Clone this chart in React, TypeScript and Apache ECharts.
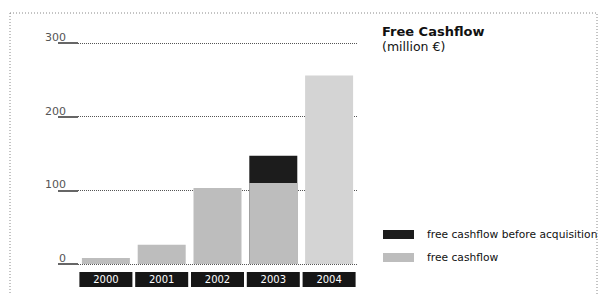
import React, { useEffect, useRef } from "react";
import * as echarts from "echarts";

const years = ["2000", "2001", "2002", "2003", "2004"];
const freeCashflow = [8, 26, 103, 110, 256];
const beforeAcquisition = [null, null, null, 147, null];
const yTicks = { min: 0, max: 300, interval: 100 };

const FONT = "DejaVu Sans";

export default function App() {
  const ref = useRef<HTMLDivElement>(null);
  useEffect(() => {
    if (!ref.current) return;
    const chart = echarts.init(ref.current, null, { renderer: "svg" });
    chart.setOption({
      animation: false,
      backgroundColor: "#fff",
      textStyle: { fontFamily: FONT },
      grid: { left: 78, top: 43, width: 279, height: 221 },
      title: {
        text: "Free Cashflow",
        subtext: "(million €)",
        left: 382,
        top: 25,
        padding: 0,
        itemGap: 2,
        textStyle: { fontFamily: FONT, fontSize: 13, fontWeight: "bold", color: "#111" },
        subtextStyle: { fontFamily: FONT, fontSize: 12.5, color: "#111" },
      },
      legend: {
        orient: "vertical",
        left: 383,
        top: 229,
        padding: 0,
        itemWidth: 31,
        itemHeight: 9,
        itemGap: 12,
        icon: "rect",
        textStyle: { fontFamily: FONT, fontSize: 10.7, color: "#111", padding: [0, 0, 0, 8] },
        data: ["free cashflow before acquisition", "free cashflow"],
      },
      xAxis: {
        type: "category",
        data: years,
        axisLine: { show: false },
        axisTick: { show: false },
        axisLabel: {
          interval: 0,
          color: "#fff",
          backgroundColor: "#161616",
          width: 53,
          height: 15,
          lineHeight: 15,
          align: "center",
          fontSize: 10,
          fontFamily: FONT,
          margin: 8,
        },
      },
      yAxis: {
        type: "value",
        ...yTicks,
        axisLine: { show: false },
        axisTick: { show: true, length: 20, lineStyle: { color: "#333", width: 1.5 } },
        axisLabel: {
          color: "#555",
          fontSize: 11,
          fontFamily: FONT,
          verticalAlign: "bottom",
          margin: 12,
        },
        splitLine: { lineStyle: { type: "dotted", color: "#555", width: 1 } },
      },
      series: [
        {
          name: "free cashflow before acquisition",
          type: "bar",
          data: beforeAcquisition,
          barCategoryGap: "14%",
          itemStyle: { color: "#1c1c1c" },
        },
        {
          name: "free cashflow",
          type: "bar",
          data: freeCashflow.map((v, i) =>
            i === 4 ? { value: v, itemStyle: { color: "#d4d4d4" } } : v
          ),
          barGap: "-100%",
          barCategoryGap: "14%",
          itemStyle: { color: "#bdbdbd" },
        },
      ],
      graphic: [
        {
          type: "rect",
          shape: { x: 10, y: 13, width: 587, height: 300 },
          style: { fill: "none", stroke: "#888", lineWidth: 1, lineDash: [1, 2] },
          silent: true,
          z: -1,
        },
      ],
    });
    return () => chart.dispose();
  }, []);
  return (
    <div
      ref={ref}
      style={{ position: "fixed", left: 0, top: 0, width: 599, height: 294 }}
    />
  );
}
